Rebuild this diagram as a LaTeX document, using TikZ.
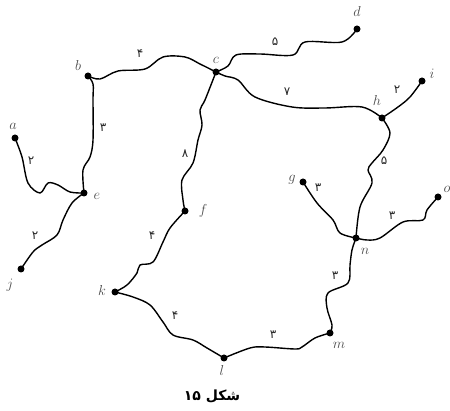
\documentclass[tikz,border=0pt]{standalone}
\usepackage{fontspec}
\newfontfamily\fa[Script=Arabic]{DejaVu Sans}
\TeXXeTstate=1
\begin{document}
\begin{tikzpicture}[x=1pt,y=-1pt,
  dot/.style={circle,fill=black,inner sep=0pt,minimum size=7pt},
  edge/.style={line width=1.4pt,line join=round,line cap=round},
  sm/.style={smooth,tension=0.55},
  vlab/.style={font=\fontsize{15}{15}\selectfont,text=black!70,inner sep=0pt},
  wlab/.style={font=\fa\fontsize{12}{12}\selectfont,text=black!85,inner sep=0pt}]
\useasboundingbox (0,0) rectangle (450,411);
% vertices
\node[dot] (a) at (15,138) {};
\node[dot] (b) at (88,76) {};
\node[dot] (c) at (216,72) {};
\node[dot] (d) at (357,29) {};
\node[dot] (e) at (84,193) {};
\node[dot] (f) at (185,211) {};
\node[dot] (g) at (303,182) {};
\node[dot] (h) at (382,118) {};
\node[dot] (i) at (422,81) {};
\node[dot] (j) at (21,269) {};
\node[dot] (k) at (115,292) {};
\node[dot] (l) at (224,358) {};
\node[dot] (m) at (330,333) {};
\node[dot] (n) at (356,238) {};
\node[dot] (o) at (438,197) {};
% vertex labels
\node[vlab] (la) at (13,126) {$a$};
\node[vlab] (lb) at (78,66) {$b$};
\node[vlab] (lc) at (216,60) {$c$};
\node[vlab] (ld) at (357,12) {$d$};
\node[vlab] (le) at (97,196) {$e$};
\node[vlab] (lf) at (203,211) {$f$};
\node[vlab] (lg) at (292,180) {$g$};
\node[vlab] (lh) at (377,101) {$h$};
\node[vlab] (li) at (432,74) {$i$};
\node[vlab] (lj) at (10,285) {$j$};
\node[vlab] (lk) at (102,291) {$k$};
\node[vlab] (ll) at (222,371) {$l$};
\node[vlab] (lm) at (339,345) {$m$};
\node[vlab] (ln) at (365,251) {$n$};
\node[vlab] (lo) at (447,189) {$o$};
% edges
\draw[edge] plot[sm] coordinates {(b.center) (100,79) (118,71) (145,69) (163,57) (185,57) (200,64) (c.center)};
\draw[edge] plot[sm] coordinates {(c.center) (228,66) (236,55) (260,54) (293,55) (305,42) (342,42) (d.center)};
\draw[edge] plot[sm] coordinates {(c.center) (225,76) (238,80) (255,97) (292,107) (325,108) (362,107) (h.center)};
\draw[edge] plot[sm] coordinates {(h.center) (398,107) (410,97) (i.center)};
\draw[edge] plot[sm] coordinates {(h.center) (390,133) (383,150) (372,163) (368,170) (372,183) (360,207) (n.center)};
\draw[edge] plot[sm] coordinates {(g.center) (317,203) (333,220) (340,233) (n.center)};
\draw[edge] plot[sm] coordinates {(n.center) (367,240) (380,238) (403,222) (423,220) (427,210) (o.center)};
\draw[edge] plot[sm] coordinates {(n.center) (352,250) (350,265) (348,283) (328,293) (327,308) (332,325) (m.center)};
\draw[edge] plot[sm] coordinates {(m.center) (315,338) (302,347) (295,349) (265,347) (250,348) (l.center)};
\draw[edge] plot[sm] coordinates {(k.center) (133,297) (150,305) (163,322) (173,335) (193,340) (207,348) (l.center)};
\draw[edge] plot[sm] coordinates {(k.center) (127,285) (137,273) (140,265) (153,262) (163,242) (170,228) (f.center)};
\draw[edge] plot[sm] coordinates {(f.center) (183,200) (182,180) (193,163) (198,140) (202,125) (200,110) (205,100) (c.center)};
\draw[edge] plot[sm] coordinates {(b.center) (93,84) (93,100) (93,140) (90,157) (83,170) (e.center)};
\draw[edge] plot[sm] coordinates {(a.center) (22,157) (28,183) (40,193) (48,183) (58,185) (70,192) (e.center)};
\draw[edge] plot[sm] coordinates {(e.center) (72,203) (63,220) (57,235) (42,245) (33,252) (j.center)};
% weights
\node[wlab] (w1) at (140,54) {۴};
\node[wlab] (w2) at (275,42) {۵};
\node[wlab] (w3) at (287,92) {۷};
\node[wlab] (w4) at (397,90) {۲};
\node[wlab] (w5) at (384,161) {۵};
\node[wlab] (w6) at (318,188) {۳};
\node[wlab] (w7) at (392,216) {۳};
\node[wlab] (w8) at (103,128) {۳};
\node[wlab] (w9) at (31,161) {۲};
\node[wlab] (w10) at (185,154) {۸};
\node[wlab] (w11) at (35,236) {۲};
\node[wlab] (w12) at (152,236) {۴};
\node[wlab] (w13) at (175,316) {۴};
\node[wlab] (w14) at (273,335) {۳};
\node[wlab] (w15) at (335,276) {۳};
% caption
\node[font=\fa\bfseries\fontsize{14}{14}\selectfont,inner sep=0pt] (cap) at (212,396) {\beginR شکل \beginL۱۵\endL\endR};
\end{tikzpicture}
\end{document}
